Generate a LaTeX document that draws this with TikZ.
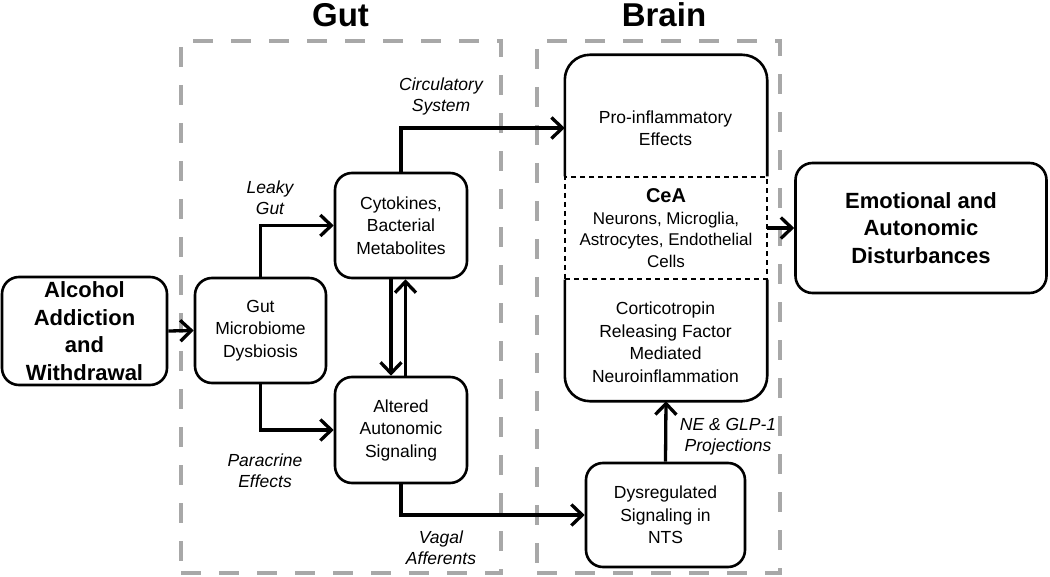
\documentclass[tikz,border=0pt]{standalone}
\usepackage{fontspec}
\setmainfont{Liberation Sans}
\usetikzlibrary{arrows.meta}
\definecolor{regiongray}{RGB}{168,168,168}
\begin{document}
\begin{tikzpicture}[x=1pt,y=-1pt,
  box/.style={draw, line width=2.6pt, rounded corners=17pt, align=center, inner sep=0pt, font=\fontsize{17.5}{22.5}\selectfont},
  bigbox/.style={box, font=\fontsize{22}{27.5}\selectfont\bfseries},
  txt/.style={align=center, inner sep=0pt, font=\fontsize{17.5}{22.5}\selectfont},
  lbl/.style={align=center, inner sep=0pt, font=\fontsize{17.5}{21}\selectfont\itshape},
  arr/.style={line width=3.3pt, -{Straight Barb[length=11pt,width=21pt]}},
  outline/.style={line width=2.6pt},
  region/.style={draw=regiongray, line width=4pt, dash pattern=on 20pt off 18pt, inner sep=0pt},
  ttl/.style={inner sep=0pt, font=\fontsize{33}{36}\selectfont\bfseries}
]
\useasboundingbox (0,0) rectangle (1050,577);

% regions
\node[region, minimum width=320pt, minimum height=532pt] (gutreg) at (341,307) {};
\node[region, minimum width=243pt, minimum height=532pt] (brainreg) at (658.5,307) {};
\node[ttl] (gutttl) at (340.5,15) {Gut};
\node[ttl] (brainttl) at (664,15) {Brain};

% boxes
\node[bigbox, minimum width=165pt, minimum height=108pt] (alc) at (84.5,331) {Alcohol\\Addiction\\and\\Withdrawal};
\node[box, minimum width=131pt, minimum height=105pt] (gmd) at (260.5,330.5) {Gut\\Microbiome\\Dysbiosis};
\node[box, minimum width=132pt, minimum height=105pt] (cyt) at (401,225.5) {Cytokines,\\Bacterial\\Metabolites};
\node[box, minimum width=132pt, minimum height=106pt] (alt) at (401,430) {Altered\\Autonomic\\Signaling};
\node[box, minimum width=159pt, minimum height=104pt] (nts) at (665.5,515) {Dysregulated\\Signaling in\\NTS};
\node[bigbox, minimum width=251pt, minimum height=130pt] (emo) at (921,228) {Emotional and\\Autonomic\\Disturbances};

% brain big box
\node[inner sep=0pt, minimum width=202pt, minimum height=346pt] (bb) at (666,228) {};
\node[draw, line width=1.3pt, dash pattern=on 5pt off 4pt, minimum width=202pt, minimum height=102pt, inner sep=0pt, align=center, font=\fontsize{17}{21.5}\selectfont] (cea) at (666,228) {{\fontsize{20}{23}\selectfont\bfseries CeA}\\Neurons, Microglia,\\Astrocytes, Endothelial\\Cells};
\draw[outline, rounded corners=25pt] (bb.west |- cea.north) -- (bb.north west) -- (bb.north east) -- (bb.east |- cea.north);
\draw[outline, rounded corners=25pt] (bb.west |- cea.south) -- (bb.south west) -- (bb.south east) -- (bb.east |- cea.south);
\node[txt] (proinf) at (665.5,128) {Pro-inflammatory\\Effects};
\node[txt] (crf) at (665.5,342) {Corticotropin\\Releasing Factor\\Mediated\\Neuroinflammation};

% connectors
\draw[arr] (alc.east) -- (gmd.west);
\draw[arr] (gmd.north) |- (cyt.west);
\draw[arr] (gmd.south) |- (alt.west);
\draw[arr] ([xshift=-10pt]cyt.south) -- ([xshift=-10pt]alt.north);
\draw[arr] ([xshift=4.5pt]alt.north) -- ([xshift=4.5pt]cyt.south);
\draw[arr] (cyt.north) |- (proinf -| bb.west);
\draw[arr] (alt.south) |- (nts.west);
\draw[arr] (nts.north) -- (bb.south);
\draw[arr] (bb.east) -- (emo.west);

% labels
\node[lbl] (lleaky) at (270,198) {Leaky\\Gut};
\node[lbl] (lpara) at (265,471) {Paracrine\\Effects};
\node[lbl] (lcirc) at (441,96) {Circulatory\\System};
\node[lbl] (lvagal) at (441,548) {Vagal\\Afferents};
\node[lbl] (lne) at (728,437) {NE \& GLP-1\\Projections};
\end{tikzpicture}
\end{document}
